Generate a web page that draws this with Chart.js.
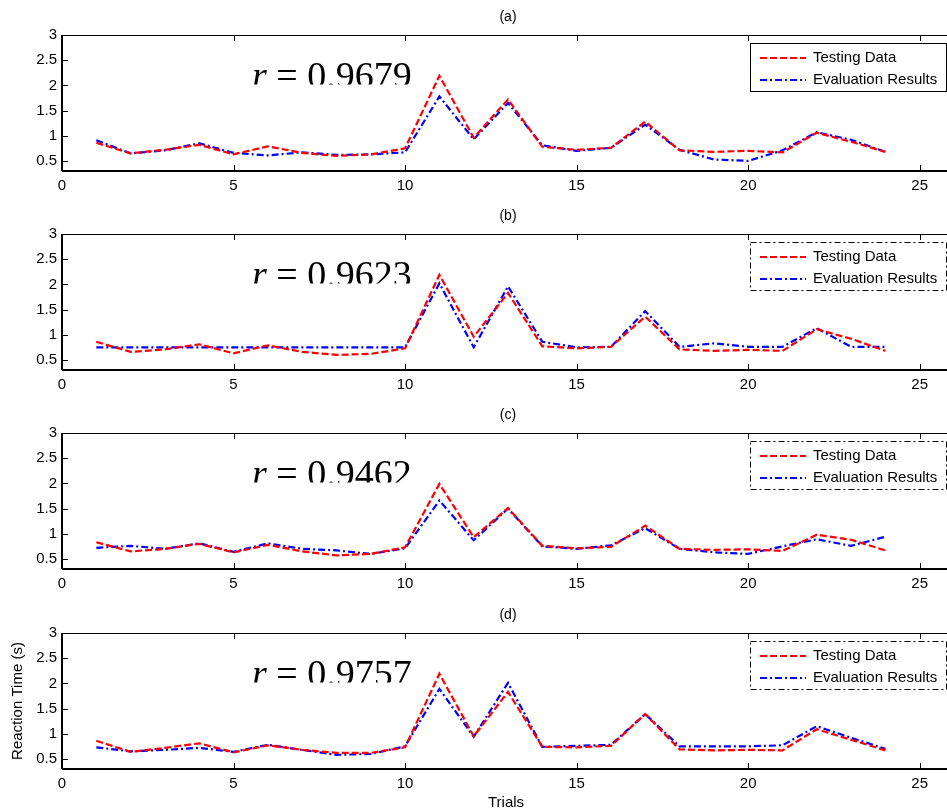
<!DOCTYPE html>
<html>
<head>
<meta charset="utf-8">
<script src="https://cdn.jsdelivr.net/npm/chart.js@4.4.1/dist/chart.umd.min.js"></script>
<style>
  html, body { margin: 0; padding: 0; background: #fff; overflow: hidden; }
  body { width: 947px; height: 810px; position: relative; }
  canvas { position: absolute; left: 0; }
</style>
</head>
<body>
<canvas id="chartA" width="960" height="200" style="top:0px"></canvas>
<canvas id="chartB" width="960" height="200" style="top:199px"></canvas>
<canvas id="chartC" width="960" height="200" style="top:398px"></canvas>
<canvas id="chartD" width="960" height="212" style="top:598px"></canvas>
<script>
const trials = [1, 2, 3, 4, 5, 6, 7, 8, 9, 10, 11, 12, 13, 14, 15, 16, 17, 18, 19, 20, 21, 22, 23, 24];

const testA = [0.86, 0.65, 0.72, 0.82, 0.63, 0.79, 0.66, 0.60, 0.63, 0.75, 2.19, 0.96, 1.72, 0.78, 0.72, 0.76, 1.28, 0.71, 0.68, 0.70, 0.67, 1.06, 0.88, 0.68];
const evalA = [0.91, 0.65, 0.71, 0.85, 0.66, 0.61, 0.67, 0.62, 0.63, 0.67, 1.78, 0.93, 1.65, 0.81, 0.70, 0.76, 1.22, 0.72, 0.53, 0.50, 0.71, 1.07, 0.92, 0.68];

const testB = [0.86, 0.66, 0.71, 0.81, 0.63, 0.79, 0.66, 0.60, 0.62, 0.73, 2.19, 0.96, 1.83, 0.77, 0.73, 0.76, 1.36, 0.71, 0.68, 0.70, 0.68, 1.11, 0.92, 0.68];
const evalB = [0.75, 0.75, 0.75, 0.75, 0.75, 0.75, 0.75, 0.75, 0.75, 0.75, 2.02, 0.75, 1.96, 0.86, 0.75, 0.76, 1.47, 0.76, 0.83, 0.76, 0.76, 1.13, 0.76, 0.76];

const testC = [0.83, 0.65, 0.70, 0.80, 0.63, 0.78, 0.65, 0.57, 0.60, 0.73, 1.99, 0.93, 1.51, 0.76, 0.71, 0.74, 1.16, 0.70, 0.68, 0.69, 0.66, 0.98, 0.88, 0.67];
const evalC = [0.72, 0.76, 0.70, 0.81, 0.64, 0.81, 0.70, 0.67, 0.60, 0.71, 1.66, 0.87, 1.50, 0.75, 0.70, 0.77, 1.11, 0.70, 0.63, 0.60, 0.75, 0.89, 0.76, 0.94];

const testD = [0.86, 0.64, 0.72, 0.81, 0.63, 0.77, 0.68, 0.62, 0.62, 0.73, 2.19, 0.95, 1.83, 0.74, 0.73, 0.76, 1.39, 0.69, 0.67, 0.68, 0.67, 1.09, 0.88, 0.67];
const evalD = [0.73, 0.65, 0.68, 0.72, 0.64, 0.78, 0.68, 0.58, 0.60, 0.75, 1.89, 0.94, 2.01, 0.74, 0.76, 0.78, 1.39, 0.75, 0.75, 0.75, 0.77, 1.15, 0.92, 0.70];

const panelTitles = ["(a)", "(b)", "(c)", "(d)"];
const rValues = ["0.9679", "0.9623", "0.9462", "0.9757"];
const seriesNames = ["Testing Data", "Evaluation Results"];
const xTicks = [0, 5, 10, 15, 20, 25];
const yTicks = [0.5, 1, 1.5, 2, 2.5, 3];
const xLabel = "Trials";
const yLabel = "Reaction Time (s)";

const SANS = '"Liberation Sans", Arial, sans-serif';
const SERIF = '"Liberation Serif", "Times New Roman", serif';
const redDash = [7, 3];
const blueDash = [7, 3, 2, 3];

// draws the matlab-ish box, inward ticks, title, r value and legend
const panelDecor = {
  id: "panelDecor",
  afterDraw(chart) {
    const { ctx, chartArea: a, scales } = chart;
    const p = chart.options.plugins.panelDecor;
    const xs = scales.x, ys = scales.y;
    ctx.save();

    // r text, bottom edge slightly clipped like the original
    ctx.save();
    ctx.beginPath();
    ctx.rect(0, 0, chart.width, a.top + 49.5);
    ctx.clip();
    ctx.fillStyle = "#000";
    ctx.textBaseline = "alphabetic";
    ctx.textAlign = "left";
    ctx.font = "italic 38px " + SERIF;
    ctx.fillText("r", 252, a.top + 53);
    const rw = ctx.measureText("r").width;
    ctx.font = "38px " + SERIF;
    ctx.fillText(" = " + p.r, 252 + rw, a.top + 53);
    ctx.restore();

    // axes box
    ctx.strokeStyle = "#000";
    ctx.setLineDash([]);
    ctx.lineWidth = 1;
    ctx.beginPath();
    ctx.moveTo(a.left, a.top + 0.5);
    ctx.lineTo(a.right, a.top + 0.5);
    ctx.moveTo(a.right - 0.5, a.top);
    ctx.lineTo(a.right - 0.5, a.bottom);
    ctx.stroke();
    ctx.lineWidth = 2;
    ctx.beginPath();
    ctx.moveTo(a.left, a.bottom);
    ctx.lineTo(a.right, a.bottom);
    ctx.moveTo(a.left, a.top);
    ctx.lineTo(a.left, a.bottom);
    ctx.stroke();

    // inward ticks
    ctx.lineWidth = 1;
    ctx.beginPath();
    xTicks.forEach(v => {
      const px = Math.round(xs.getPixelForValue(v)) + 0.5;
      if (px <= a.left + 1) return;
      ctx.moveTo(px, a.top);
      ctx.lineTo(px, a.top + 6);
      ctx.moveTo(px, a.bottom);
      ctx.lineTo(px, a.bottom - 6);
    });
    yTicks.forEach(v => {
      const py = Math.round(ys.getPixelForValue(v)) + 0.5;
      if (py <= a.top + 1) return;
      ctx.moveTo(a.left, py);
      ctx.lineTo(a.left + 6, py);
      ctx.moveTo(a.right, py);
      ctx.lineTo(a.right - 6, py);
    });
    ctx.stroke();

    // title
    ctx.fillStyle = "#000";
    ctx.font = "14px " + SANS;
    ctx.textAlign = "center";
    ctx.textBaseline = "middle";
    ctx.fillText(p.title, (a.left + a.right) / 2, a.top - 18);

    // legend
    const lx = 750, ly = a.top + 8, lw = 196, lh = 48;
    ctx.fillStyle = "#fff";
    ctx.fillRect(lx, ly, lw, lh);
    ctx.strokeStyle = "#000";
    ctx.lineWidth = 1;
    ctx.setLineDash(p.solidLegend ? [] : [6, 3, 2, 3]);
    ctx.strokeRect(lx + 0.5, ly + 0.5, lw, lh);
    const rows = [
      { name: seriesNames[0], color: "#ff0000", dash: redDash, y: ly + 15 },
      { name: seriesNames[1], color: "#0000ff", dash: blueDash, y: ly + 37 }
    ];
    rows.forEach(r => {
      ctx.strokeStyle = r.color;
      ctx.lineWidth = 2;
      ctx.setLineDash(r.dash);
      ctx.beginPath();
      ctx.moveTo(760, r.y);
      ctx.lineTo(806, r.y);
      ctx.stroke();
      ctx.setLineDash([]);
      ctx.fillStyle = "#000";
      ctx.font = "15px " + SANS;
      ctx.textAlign = "left";
      ctx.textBaseline = "middle";
      ctx.fillText(r.name, 813, r.y);
    });

    // axis labels on the last panel only
    if (p.axisLabels) {
      ctx.fillStyle = "#000";
      ctx.font = "15px " + SANS;
      ctx.textAlign = "center";
      ctx.textBaseline = "middle";
      ctx.fillText(xLabel, 506, a.bottom + 34);
      ctx.save();
      ctx.translate(18, (a.top + a.bottom) / 2);
      ctx.rotate(-Math.PI / 2);
      ctx.fillText(yLabel, 0, 0);
      ctx.restore();
    }
    ctx.restore();
  }
};

function makePanel(id, idx, testing, evaluation) {
  const canvas = document.getElementById(id);
  const h = canvas.height;
  const last = idx === 3;
  return new Chart(canvas, {
    type: "line",
    data: {
      datasets: [
        {
          label: seriesNames[0],
          data: trials.map((t, i) => ({ x: t, y: testing[i] })),
          borderColor: "#ff0000",
          borderWidth: 2.2,
          borderDash: redDash,
          pointRadius: 0,
          fill: false,
          tension: 0
        },
        {
          label: seriesNames[1],
          data: trials.map((t, i) => ({ x: t, y: evaluation[i] })),
          borderColor: "#0000ff",
          borderWidth: 2.2,
          borderDash: blueDash,
          pointRadius: 0,
          fill: false,
          tension: 0
        }
      ]
    },
    options: {
      responsive: false,
      animation: false,
      devicePixelRatio: 1,
      layout: { padding: { left: 0, top: 35, right: 6, bottom: 0 } },
      plugins: {
        legend: { display: false },
        tooltip: { enabled: false },
        panelDecor: {
          title: panelTitles[idx],
          r: rValues[idx],
          solidLegend: idx === 0,
          axisLabels: last
        }
      },
      scales: {
        x: {
          type: "linear",
          min: 0,
          max: 26,
          grid: { display: false, drawTicks: false },
          border: { display: false },
          afterBuildTicks: s => { s.ticks = xTicks.map(v => ({ value: v })); },
          afterFit: s => { s.height = h - 35 - 136; },
          ticks: {
            autoSkip: false,
            maxRotation: 0,
            padding: 6,
            color: "#000",
            font: { family: SANS, size: 15 },
            callback: v => String(v)
          }
        },
        y: {
          type: "linear",
          min: 0.3,
          max: 3,
          grid: { display: false, drawTicks: false },
          border: { display: false },
          afterBuildTicks: s => { s.ticks = yTicks.map(v => ({ value: v })); },
          afterFit: s => { s.width = 62; },
          ticks: {
            autoSkip: false,
            padding: 5,
            color: "#000",
            font: { family: SANS, size: 15 },
            callback: v => String(v)
          }
        }
      }
    },
    plugins: [panelDecor]
  });
}

makePanel("chartA", 0, testA, evalA);
makePanel("chartB", 1, testB, evalB);
makePanel("chartC", 2, testC, evalC);
makePanel("chartD", 3, testD, evalD);
</script>
</body>
</html>
